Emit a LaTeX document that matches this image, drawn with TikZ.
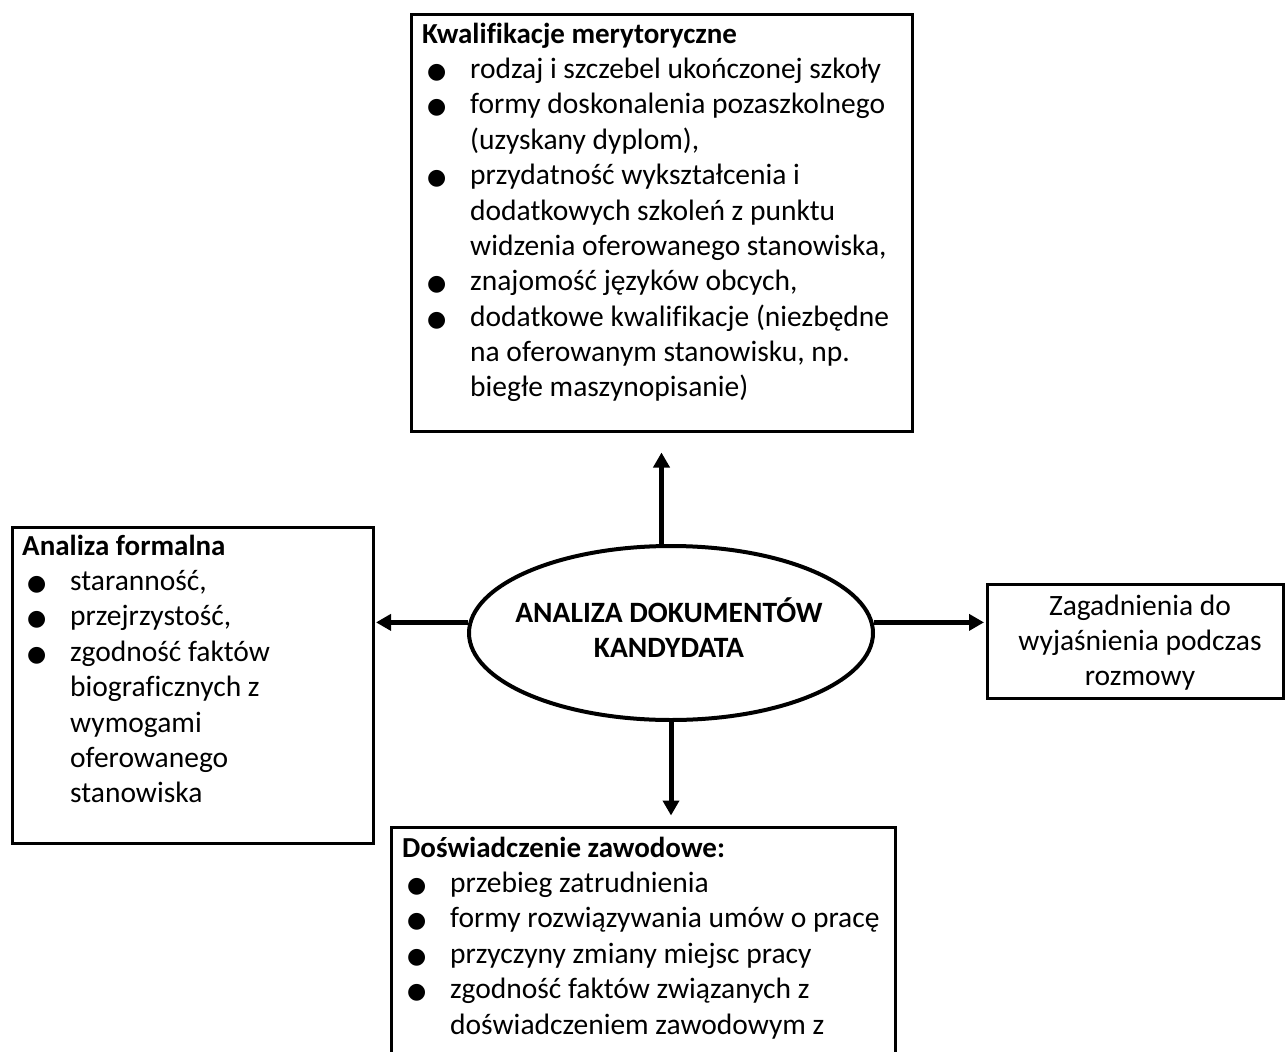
\documentclass[tikz,border=0pt]{standalone}
\usepackage{fontspec}
\setmainfont{Carlito}[Ligatures=NoCommon]
\newfontfamily\dejavu{DejaVu Sans}
\usetikzlibrary{arrows.meta,shapes.geometric}
\newcommand\blt{\makebox[48pt][l]{\hspace*{5pt}{\dejavu\fontsize{22pt}{22pt}\selectfont ●}}}
\newcommand\ind{\hspace*{48pt}}
\newcommand\lns[1]{\vtop{\baselineskip=35.4pt\lineskiplimit=-100pt\lineskip=0pt #1}}
\newcommand\cln[1]{\hbox to 0pt{\hss#1\hss}}
\newcommand\ttl[1]{{\fontsize{29pt}{35.4pt}\selectfont\bfseries #1}}
\tikzset{
  box/.style={draw, line width=3pt, rectangle, inner sep=0pt},
  ell/.style={draw, line width=4pt, ellipse, inner sep=0pt},
  txt/.style={inner sep=0pt, font=\fontsize{29.5pt}{35.4pt}\selectfont},
  arr/.style={line width=5pt, -{Triangle[width=16pt,length=15pt]}}
}
\begin{document}
\begin{tikzpicture}[x=1pt,y=-1pt]
\useasboundingbox (0,0) rectangle (1285,1052);
\fill[white] (0,0) rectangle (1285,1052);
\clip (0,0) rectangle (1285,1052);

% boxes
\node[box, minimum width=501pt, minimum height=417pt] (top) at (661.5,222.5) {};
\node[box, minimum width=361pt, minimum height=316pt] (left) at (192.5,685) {};
\node[box, minimum width=296pt, minimum height=114pt] (right) at (1135,641) {};
\node[box, minimum width=504pt, minimum height=300pt] (bot) at (643,977) {};
\node[ell, minimum width=404pt, minimum height=174pt] (ell) at (671,633) {};

% texts
\node[txt, anchor=base west] (toptxt) at (422,43) {\lns{%
\hbox{\ttl{Kwalifikacje merytoryczne}}
\hbox{\blt rodzaj i szczebel ukończonej szkoły}
\hbox{\blt formy doskonalenia pozaszkolnego}
\hbox{\ind (uzyskany dyplom),}
\hbox{\blt przydatność wykształcenia i}
\hbox{\ind dodatkowych szkoleń z punktu}
\hbox{\ind widzenia oferowanego stanowiska,}
\hbox{\blt znajomość języków obcych,}
\hbox{\blt dodatkowe kwalifikacje (niezbędne}
\hbox{\ind na oferowanym stanowisku, np.}
\hbox{\ind biegłe maszynopisanie)}}};

\node[txt, anchor=base west] (lefttxt) at (22,555) {\lns{%
\hbox{\ttl{Analiza formalna}}
\hbox{\blt staranność,}
\hbox{\blt przejrzystość,}
\hbox{\blt zgodność faktów}
\hbox{\ind biograficznych z}
\hbox{\ind wymogami}
\hbox{\ind oferowanego}
\hbox{\ind stanowiska}}};

\node[txt, anchor=base west] (bottxt) at (402,857) {\lns{%
\hbox{\ttl{Doświadczenie zawodowe:}}
\hbox{\blt przebieg zatrudnienia}
\hbox{\blt formy rozwiązywania umów o pracę}
\hbox{\blt przyczyny zmiany miejsc pracy}
\hbox{\blt zgodność faktów związanych z}
\hbox{\ind doświadczeniem zawodowym z}}};

\node[txt, anchor=base] (righttxt) at (1140,615) {\lns{%
\cln{Zagadnienia do}
\cln{wyjaśnienia podczas}
\cln{rozmowy}}};

\node[txt, anchor=base, font=\fontsize{29.5pt}{35.4pt}\selectfont\bfseries] (elltxt) at (669,622) {\lns{%
\cln{ANALIZA DOKUMENTÓW}
\cln{KANDYDATA}}};

% connectors
\draw[arr, shorten >=20pt] (ell.north -| top.south) -- (top.south);
\draw[arr, shorten >=10pt] (ell.south) -- (ell.south |- bot.north);
\draw[arr, shorten >=1.5pt] (ell.177) -- (ell.177 -| left.east);
\draw[arr, shorten >=1.5pt] (ell.3) -- (ell.3 -| right.west);
\end{tikzpicture}
\end{document}
